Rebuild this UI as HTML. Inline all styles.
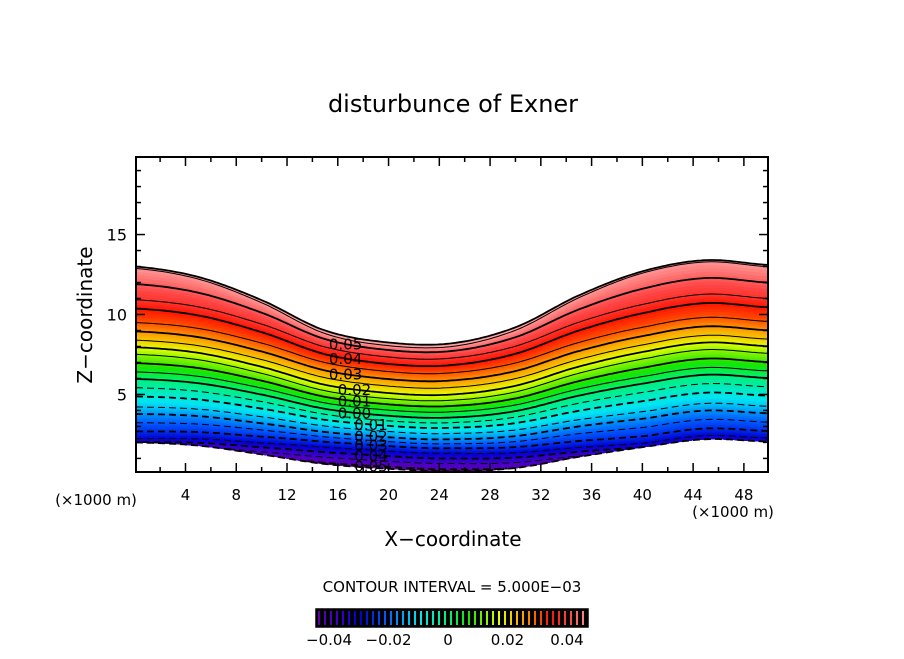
<!DOCTYPE html>
<html><head><meta charset="utf-8"><style>
body{margin:0;background:#fff;}
svg text{font-family:"DejaVu Sans","Liberation Sans",sans-serif;fill:#000;}
</style></head><body>
<svg id="chart" width="904" height="654" viewBox="0 0 904 654" xmlns="http://www.w3.org/2000/svg">
<text x="453" y="112" font-size="24" text-anchor="middle">disturbunce of Exner</text>
<g id="plot"></g>
<text x="453" y="546" font-size="20" text-anchor="middle">X−coordinate</text>
<text transform="translate(92,315) rotate(-90)" font-size="20" text-anchor="middle">Z−coordinate</text>
<text x="96" y="505" font-size="15" text-anchor="middle">(×1000 m)</text>
<text x="733" y="517" font-size="15" text-anchor="middle">(×1000 m)</text>
<text x="452" y="592" font-size="15" text-anchor="middle">CONTOUR INTERVAL = 5.000E−03</text>
<g id="cbar"></g>
</svg>
<script>
// boundary samples (x in km, z in km)
const xSamples=[0,5,10,15,20,25,30,35,40,45,50];
const topZ=[13.0,12.35,10.9,9.0,8.25,8.2,9.2,11.2,12.7,13.4,13.1];
const botZ=[2.0,1.8,1.25,0.65,0.35,0.2,0.4,1.1,1.7,2.2,2.05];
// contour levels and their fractional height (thin layer / thick layer)
const levels=[-0.05,-0.045,-0.04,-0.035,-0.03,-0.025,-0.02,-0.015,-0.01,-0.005,0,0.005,0.01,0.015,0.02,0.025,0.03,0.035,0.04,0.045,0.05,0.055];
const levelFrac=[0.015,0.06,0.10,0.14,0.18,0.215,0.25,0.295,0.34,0.38,0.42,0.465,0.51,0.555,0.60,0.655,0.71,0.77,0.83,0.885,0.94,0.975];
const levelFracEdge=[-0.04,-0.02,0.0,0.02,0.06,0.11,0.16,0.20,0.26,0.31,0.36,0.40,0.45,0.50,0.54,0.58,0.63,0.68,0.76,0.81,0.90,0.99];
const labelLevels=[0.05,0.04,0.03,0.02,0.01,0.00,-0.01,-0.02,-0.03,-0.04,-0.05];
const xTicks=[4,8,12,16,20,24,28,32,36,40,44,48];
const yTicks=[5,10,15];
const cbarTicks=[-0.04,-0.02,0,0.02,0.04];
const cbarTickText=["−0.04","−0.02","0","0.02","0.04"];

const NS="http://www.w3.org/2000/svg";
const L=136,R=768,T=157,B=472;
const xMin=0.1,xMax=49.9,zMin=0.15,zMax=19.85;
const sx=x=>L+(x-xMin)/(xMax-xMin)*(R-L);
const sy=z=>B-(z-zMin)/(zMax-zMin)*(B-T);
function mk(tag,attrs,parent){const e=document.createElementNS(NS,tag);for(const k in attrs)e.setAttribute(k,attrs[k]);parent.appendChild(e);return e;}
function interp(xs,ys,x){
  const h=xs[1]-xs[0];let i=Math.floor((x-xs[0])/h);i=Math.max(0,Math.min(xs.length-2,i));
  const t=(x-xs[i])/h;const p0=ys[Math.max(0,i-1)],p1=ys[i],p2=ys[i+1],p3=ys[Math.min(ys.length-1,i+2)];
  return 0.5*((2*p1)+(-p0+p2)*t+(2*p0-5*p1+4*p2-p3)*t*t+(-p0+3*p1-3*p2+p3)*t*t*t);
}
function color(v){
  const stops=[[-0.055,[110,0,150]],[-0.045,[70,0,200]],[-0.035,[0,0,210]],[-0.025,[0,90,255]],[-0.012,[0,230,240]],[0,[0,240,120]],[0.008,[20,230,0]],[0.02,[230,255,0]],[0.03,[255,150,0]],[0.04,[255,20,0]],[0.048,[255,70,70]],[0.056,[255,160,160]]];
  if(v<=stops[0][0])return 'rgb('+stops[0][1]+')';
  for(let i=1;i<stops.length;i++){if(v<=stops[i][0]){const a=stops[i-1],b=stops[i],t=(v-a[0])/(b[0]-a[0]);return 'rgb('+a[1].map((c,j)=>Math.round(c+(b[1][j]-c)*t)).join(',')+')';}}
  return 'rgb('+stops[stops.length-1][1]+')';
}
const plot=document.getElementById('plot');
const xs=[];for(let x=xMin;x<=xMax+1e-9;x+=0.25)xs.push(x);
const botAt=x=>interp(xSamples,botZ,x), topAt=x=>interp(xSamples,topZ,x);
function wAt(x){const th=(topAt(x)-botAt(x))*16;return Math.max(0,Math.min(1,(th-128)/(177-128)));}
const allF=[0].concat(levelFrac).concat([1]);
const allFE=[-0.06].concat(levelFracEdge).concat([1]);
const allV=[-0.06].concat(levels).concat([0.06]);
function fracAt(idx,x){
  const i=Math.floor(idx),t=idx-i,j=Math.min(i+1,allF.length-1);
  const w=wAt(x);
  const a=allF[i]*(1-w)+allFE[i]*w,b=allF[j]*(1-w)+allFE[j]*w;
  return Math.max(0,Math.min(1,a+(b-a)*t));
}
const zAt=(x,f)=>{const b=botAt(x),t=topAt(x);return b+(t-b)*f;};
function pathIdx(idx,rev){const arr=rev?xs.slice().reverse():xs;return arr.map((x,i)=>((i||rev)?'L':'M')+sx(x).toFixed(1)+','+sy(zAt(x,fracAt(idx,x))).toFixed(1)).join('');}
const SUB=5;
for(let k=0;k<allF.length-1;k++){
  for(let s=0;s<SUB;s++){
    const i0=k+s/SUB,i1=k+(s+1)/SUB;
    const v=allV[k]+(allV[k+1]-allV[k])*(s+0.5)/SUB;
    const d=pathIdx(i0,false)+pathIdx(i1,true)+'Z';
    const p=mk('path',{d:d,fill:color(v),stroke:color(v),'stroke-width':0.6},plot);
    
    
  }
}
levels.forEach((v,i)=>{
  const major=Math.abs(Math.round(v*1000)%10)===0;
  const pts=[];xs.forEach(x=>{const w=wAt(x);const f=levelFrac[i]*(1-w)+levelFracEdge[i]*w;if(f>=0.003)pts.push([sx(x),sy(zAt(x,f))]);});
  if(pts.length<2)return;
  const attrs={d:pts.map((p,j)=>(j?'L':'M')+p[0].toFixed(1)+','+p[1].toFixed(1)).join(''),fill:'none',stroke:'#000','stroke-width':major?1.8:1};
  if(v<0)attrs['stroke-dasharray']='7,4';
  const p=mk('path',attrs,plot);
  
  
});
[[0,'bottom'],[allF.length-1,'top']].forEach(([idx,n])=>{
  const a={d:pathIdx(idx,false),fill:'none',stroke:'#000','stroke-width':1.8};
  if(idx===0)a['stroke-dasharray']='7,4';
  const p=mk('path',a,plot);
  
  
});
labelLevels.forEach(v=>{
  const i=levels.findIndex(l=>Math.abs(l-v)<1e-9);
  const neg=v<0;const lx=neg?17.3:(v>=0.03?15.3:16.0);
  const y=sy(zAt(lx+1,fracAt(i+1,lx+1)))+6;
  const t=mk('text',{x:sx(lx),y:y,'font-size':15},plot);
  t.textContent=Math.abs(v).toFixed(2);
  
  
});
const fr=mk('rect',{x:L,y:T,width:R-L,height:B-T,fill:'none',stroke:'#000','stroke-width':2},plot);


for(let x=2;x<=49;x+=2){
  const major=x%4===0,len=major?9:5;
  mk('line',{x1:sx(x),x2:sx(x),y1:B,y2:B-len,stroke:'#000','stroke-width':1.5},plot);
  mk('line',{x1:sx(x),x2:sx(x),y1:T,y2:T+len,stroke:'#000','stroke-width':1.5},plot);
}
xTicks.forEach(x=>{const t=mk('text',{x:sx(x),y:B+28,'font-size':15,'text-anchor':'middle'},plot);t.textContent=x;
  
  });
for(let z=1;z<=19;z++){
  const major=z%5===0,len=major?9:5;
  mk('line',{x1:L,x2:L+len,y1:sy(z),y2:sy(z),stroke:'#000','stroke-width':1.5},plot);
  mk('line',{x1:R,x2:R-len,y1:sy(z),y2:sy(z),stroke:'#000','stroke-width':1.5},plot);
}
yTicks.forEach(z=>{const t=mk('text',{x:L-9,y:sy(z)+6,'font-size':16,'text-anchor':'end'},plot);t.textContent=z;
  
  });
const cb=document.getElementById('cbar');
const cL=316,cR=588,cT=609,cB=627;
const bg=mk('rect',{x:cL,y:cT,width:cR-cL,height:cB-cT,fill:'#000',stroke:'#000','stroke-width':1.5},cb);


const cv=x=>-0.0525+(x-cL)/(cR-cL)*0.1075;
for(let x=cL+3;x<cR-1;x+=6){
  const l=mk('line',{x1:x,x2:x,y1:cT+2,y2:cB-2,stroke:color(cv(x)),'stroke-width':2},cb);
  
  
}
cbarTicks.forEach((v,i)=>{const t=mk('text',{x:448+v/0.02*59.5,y:645,'font-size':15,'text-anchor':'middle'},cb);t.textContent=cbarTickText[i];
  
  });
</script>
</body></html>
